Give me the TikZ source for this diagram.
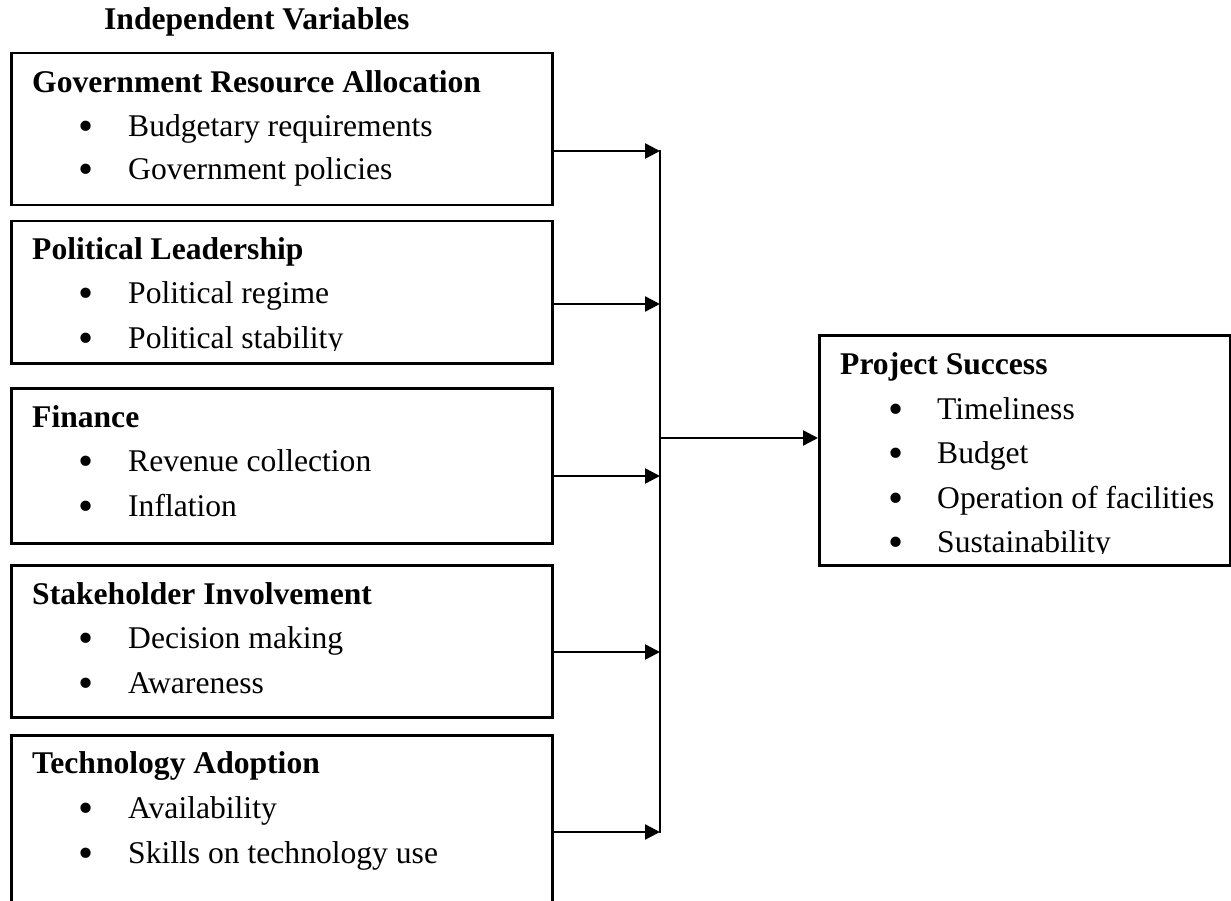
\documentclass[tikz,border=0pt]{standalone}
\usepackage{fontspec}
\setmainfont{Liberation Serif}
\usetikzlibrary{arrows.meta}
\begin{document}
\begin{tikzpicture}[x=1pt,y=-1pt,
  box/.style={draw, line width=2.5pt, anchor=north west, inner sep=0pt},
  txt/.style={anchor=base west, inner sep=0pt, font=\fontsize{31.6}{38}\selectfont},
  hd/.style={anchor=base west, inner sep=0pt, font=\fontsize{31.6}{38}\selectfont\bfseries},
  bul/.style={anchor=base, inner sep=0pt, font=\fontsize{43}{48}\selectfont},
  link/.style={line width=2.5pt},
  arr/.style={line width=2.5pt, -{Triangle[length=15pt,width=15pt]}}]
\useasboundingbox (0,0) rectangle (1231,901);
\clip (0,0) rectangle (1231,901);

% heading
\node[hd] (iv) at (104,30) {Independent Variables};

% boxes
\node[box, minimum width=541pt, minimum height=152pt] (b1) at (10,52) {};
\node[box, minimum width=541pt, minimum height=142pt] (b2) at (10,220) {};
\node[box, minimum width=541pt, minimum height=155pt] (b3) at (10,387) {};
\node[box, minimum width=541pt, minimum height=152pt] (b4) at (10,564) {};
\node[box, minimum width=541pt, minimum height=220pt] (b5) at (10,734) {};
\node[box, minimum width=411pt, minimum height=230pt] (ps) at (818,334) {};

% box 1
\node[hd] (t1) at (32,93) {Government Resource Allocation};
\node[bul] (t1a) at (86.5,141) {\textbullet};
\node[txt] (t1b) at (128,137) {Budgetary requirements};
\node[bul] (t1c) at (86.5,184) {\textbullet};
\node[txt] (t1d) at (128,180) {Government policies};

% box 2
\node[hd] (t2) at (32,260) {Political Leadership};
\node[bul] (t2a) at (86.5,308) {\textbullet};
\node[txt] (t2b) at (128,304) {Political regime};
\node[bul] (t2c) at (86.5,352) {\textbullet};
\begin{scope}
\clip (0,300) rectangle (551,350);
\node[txt] (t2d) at (128,348) {Political stability};
\end{scope}

% box 3
\node[hd] (t3) at (32,427) {Finance};
\node[bul] (t3a) at (86.5,475) {\textbullet};
\node[txt] (t3b) at (128,471) {Revenue collection};
\node[bul] (t3c) at (86.5,520) {\textbullet};
\node[txt] (t3d) at (128,516) {Inflation};

% box 4
\node[hd] (t4) at (32,604) {Stakeholder Involvement};
\node[bul] (t4a) at (86.5,652) {\textbullet};
\node[txt] (t4b) at (128,648) {Decision making};
\node[bul] (t4c) at (86.5,697) {\textbullet};
\node[txt] (t4d) at (128,693) {Awareness};

% box 5
\node[hd] (t5) at (32,773) {Technology Adoption};
\node[bul] (t5a) at (86.5,822) {\textbullet};
\node[txt] (t5b) at (128,818) {Availability};
\node[bul] (t5c) at (86.5,867) {\textbullet};
\node[txt] (t5d) at (128,863) {Skills on technology use};

% project success
\node[hd] (tp) at (840,374) {Project Success};
\node[bul] (tpa) at (896,423) {\textbullet};
\node[txt] (tpb) at (937,419) {Timeliness};
\node[bul] (tpc) at (896,467) {\textbullet};
\node[txt] (tpd) at (937,463) {Budget};
\node[bul] (tpe) at (896,512) {\textbullet};
\node[txt] (tpf) at (937,508) {Operation of facilities};
\node[bul] (tpg) at (896,556) {\textbullet};
\begin{scope}
\clip (818,520) rectangle (1229,553);
\node[txt] (tph) at (937,552) {Sustainability};
\end{scope}

% connectors
\coordinate (j1) at (660,151);
\coordinate (j2) at (660,304);
\coordinate (j3) at (660,476);
\coordinate (j4) at (660,652);
\coordinate (j5) at (660,832);
\coordinate (jm) at (660,438);

\draw[arr] (b1.east |- j1) -- (j1);
\draw[arr] (b2.east |- j2) -- (j2);
\draw[arr] (b3.east |- j3) -- (j3);
\draw[arr] (b4.east |- j4) -- (j4);
\draw[arr] (b5.east |- j5) -- (j5);
\draw[link] ([yshift=1pt]j1) -- ([yshift=-1pt]j5);
\draw[arr] (jm) -- (ps.west |- jm);
\end{tikzpicture}
\end{document}
